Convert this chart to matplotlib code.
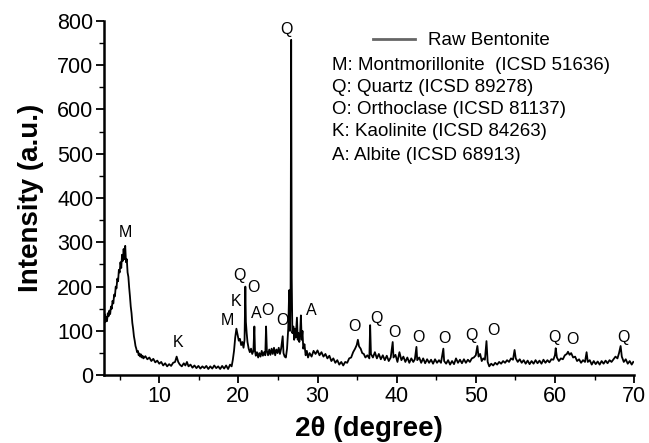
import matplotlib
matplotlib.use('Agg')
import matplotlib.pyplot as plt
from matplotlib.ticker import MultipleLocator

plt.rcParams['font.family'] = ['Liberation Sans', 'DejaVu Sans']

# XRD pattern of raw bentonite
two_theta = [
    3.0, 3.1, 3.2, 3.3, 3.4, 3.5, 3.6, 3.7, 3.8, 3.9, 4.0, 4.1, 4.2, 4.3, 4.4, 4.5, 4.6, 4.7, 4.8, 4.9,
    5.0, 5.1, 5.2, 5.3, 5.4, 5.5, 5.6, 5.7, 5.8, 5.9, 6.0, 6.1, 6.2, 6.3, 6.4, 6.5, 6.6, 6.7, 6.8, 6.9,
    7.0, 7.1, 7.2, 7.3, 7.4, 7.5, 7.6, 7.7, 7.8, 7.9, 8.0,
    8.25, 8.5, 8.75, 9.0, 9.25, 9.5, 9.75, 10.0, 10.25, 10.5, 10.75, 11.0, 11.25, 11.5, 11.75, 12.0,
    12.2, 12.4, 12.6, 12.85, 13.1, 13.3, 13.5, 13.7, 13.95, 14.2, 14.45, 14.7, 14.95, 15.2, 15.45,
    15.7, 15.95, 16.2, 16.45, 16.7, 16.95, 17.2, 17.45, 17.7, 17.95, 18.2, 18.45, 18.7, 18.95, 19.15,
    19.3, 19.45, 19.6, 19.75, 19.9, 20.05, 20.2, 20.35, 20.5, 20.65, 20.78, 20.88, 20.95, 21.05, 21.15,
    21.3, 21.45, 21.6, 21.75, 21.9, 22.02, 22.1, 22.2, 22.35, 22.5, 22.65, 22.8, 22.95, 23.1, 23.25,
    23.4, 23.5, 23.6, 23.75, 23.9, 24.05, 24.2, 24.35, 24.5, 24.65, 24.8, 24.95, 25.1, 25.25, 25.4,
    25.6, 25.7, 25.85, 26.0, 26.15, 26.3, 26.42, 26.52, 26.6, 26.67, 26.74, 26.82, 26.95, 27.05, 27.15,
    27.25, 27.4, 27.5, 27.6, 27.7, 27.8, 27.9, 28.0, 28.1, 28.2, 28.35, 28.5, 28.65, 28.8,
    29.0, 29.25, 29.5, 29.75, 30.0, 30.25, 30.5, 30.75, 31.0, 31.25, 31.5, 31.75, 32.0, 32.25, 32.5,
    32.75, 33.0, 33.25, 33.5, 33.75, 34.0, 34.25, 34.5, 34.75, 34.95, 35.1, 35.25, 35.45, 35.65, 35.85,
    36.05, 36.3, 36.55, 36.65, 36.75, 37.0, 37.25, 37.5, 37.75, 38.0, 38.25, 38.5, 38.75, 39.0, 39.25,
    39.5, 39.6, 39.85, 40.1, 40.35, 40.6, 40.85, 41.1, 41.35, 41.6, 41.85, 42.1, 42.3, 42.5, 42.6,
    42.85, 43.1, 43.35, 43.6, 43.85, 44.1, 44.35, 44.6, 44.85, 45.1, 45.35, 45.6, 45.9, 46.0, 46.25,
    46.5, 46.75, 47.0, 47.25, 47.5, 47.75, 48.0, 48.25, 48.5, 48.75, 49.0, 49.25, 49.5, 49.75, 50.0,
    50.2, 50.35, 50.55, 50.75, 50.95, 51.15, 51.35, 51.5, 51.7, 51.95, 52.2, 52.45, 52.7, 52.95, 53.2,
    53.45, 53.7, 53.95, 54.2, 54.45, 54.7, 54.9, 55.05, 55.3, 55.55, 55.8, 56.05, 56.3, 56.55, 56.8,
    57.05, 57.3, 57.55, 57.8, 58.05, 58.3, 58.55, 58.8, 59.05, 59.3, 59.55, 59.8, 60.0, 60.1, 60.25,
    60.5, 60.75, 61.0, 61.25, 61.5, 61.65, 61.85, 62.05, 62.3, 62.55, 62.8, 63.05, 63.3, 63.55, 63.8,
    64.0, 64.15, 64.4, 64.65, 64.9, 65.15, 65.4, 65.65, 65.9, 66.15, 66.4, 66.65, 66.9, 67.15, 67.4,
    67.65, 67.9, 68.1, 68.3, 68.45, 68.7, 68.95, 69.2, 69.45, 69.7, 69.9,
]
intensity = [
    125, 138, 120, 132, 122, 140, 133, 146, 138, 155, 150, 168, 162, 182, 178, 200, 196, 218, 212, 238,
    232, 255, 242, 272, 258, 285, 262, 292, 255, 262, 232, 222, 198, 178, 155, 140, 118, 105, 88, 78,
    66, 60, 52, 55, 45, 49, 42, 47, 40, 44, 38,
    43, 36, 40, 32, 37, 29, 33, 26, 30, 22, 27, 20, 25, 21, 28, 30,
    42, 30, 24, 20, 27, 22, 30, 20, 24, 17, 22, 16, 21, 15, 20,
    16, 21, 14, 20, 15, 22, 16, 20, 14, 21, 15, 22, 14, 24, 20,
    35, 55, 85, 105, 92, 78, 82, 68, 75, 62, 80, 200, 120, 95, 75,
    60, 52, 60, 48, 55, 110, 55, 44, 52, 40, 50, 42, 55, 44, 52,
    45, 110, 55, 45, 58, 46, 60, 48, 62, 45, 58, 50, 62, 48, 60,
    88, 50, 42, 40, 60, 105, 192, 100, 200, 757, 220, 95, 110, 80, 105,
    85, 130, 80, 95, 75, 95, 135, 80, 100, 60, 70, 45, 55, 40,
    50, 42, 55, 48, 56, 45, 52, 42, 48, 38, 44, 32, 38, 28, 34,
    24, 30, 22, 30, 28, 38, 40, 52, 60, 68, 80, 65, 60, 50, 48,
    40, 45, 38, 113, 48, 40, 52, 38, 48, 36, 45, 34, 44, 32, 40,
    75, 40, 46, 30, 52, 34, 42, 30, 40, 28, 38, 30, 36, 64, 34,
    40, 28, 38, 27, 36, 28, 35, 26, 36, 28, 34, 28, 60, 32, 26,
    34, 24, 32, 25, 38, 28, 35, 27, 36, 28, 35, 30, 38, 40, 45,
    66, 42, 48, 32, 38, 35, 77, 30, 20, 26, 22, 28, 24, 30, 26,
    32, 28, 34, 30, 38, 35, 57, 38, 30, 36, 28, 34, 26, 33, 25,
    32, 26, 34, 27, 33, 26, 35, 28, 34, 29, 36, 35, 45, 61, 40,
    32, 38, 36, 45, 48, 53, 46, 50, 40, 42, 32, 36, 28, 34, 30,
    52, 30, 34, 24, 32, 25, 31, 24, 32, 26, 33, 27, 34, 30, 36,
    42, 38, 50, 66, 42, 30, 36, 26, 32, 24, 30,
]

# phase markers: letter, 2theta, height of label
peak_letters = ['M', 'K', 'M', 'K', 'Q', 'O', 'A', 'O', 'O', 'Q', 'A',
                'O', 'Q', 'O', 'O', 'O', 'Q', 'O', 'Q', 'O', 'Q']
peak_x = [5.7, 12.4, 18.6, 19.7, 20.1, 21.9, 22.2, 23.7, 25.6, 26.1, 29.2,
          34.7, 37.4, 39.7, 42.8, 46.1, 49.5, 52.2, 60.0, 62.2, 68.6]
peak_y = [323, 73, 123, 166, 224, 198, 139, 147, 124, 780, 147,
          109, 128, 96, 85, 83, 90, 102, 85, 81, 85]

phases = ['M: Montmorillonite  (ICSD 51636)',
          'Q: Quartz (ICSD 89278)',
          'O: Orthoclase (ICSD 81137)',
          'K: Kaolinite (ICSD 84263)',
          'A: Albite (ICSD 68913)']

fig = plt.figure(figsize=(6.49, 4.43), dpi=100)
ax = fig.add_axes([0.160, 0.153, 0.817, 0.800])

line, = ax.plot(two_theta, intensity, color='black', lw=1.3, label='Raw Bentonite')

for i in range(len(peak_letters)):
    ax.text(peak_x[i], peak_y[i], peak_letters[i], fontsize=11.5,
            ha='center', va='center')

ax.set_xlim(3, 70)
ax.set_ylim(0, 800)
ax.xaxis.set_major_locator(MultipleLocator(10))
ax.xaxis.set_minor_locator(MultipleLocator(5))
ax.yaxis.set_major_locator(MultipleLocator(100))
ax.yaxis.set_minor_locator(MultipleLocator(50))
ax.spines['top'].set_visible(False)
ax.spines['right'].set_visible(False)
ax.spines['left'].set_linewidth(1.8)
ax.spines['bottom'].set_linewidth(1.8)
ax.tick_params(which='major', length=5.5, width=1.3, labelsize=15.5, direction='out', pad=2)
ax.tick_params(which='minor', length=3.5, width=1.0, direction='out')

ax.set_xlabel('2θ (degree)', fontsize=20, fontweight='bold')
ax.set_ylabel('Intensity (a.u.)', fontsize=20, fontweight='bold')
ax.xaxis.set_label_coords(0.5, (375 - 416) / 354)
ax.yaxis.set_label_coords((44 - 104) / 530, 0.5)

leg = ax.legend(loc='upper left', bbox_to_anchor=(373 / 649, 1 - 32 / 443),
                bbox_transform=fig.transFigure, frameon=False, fontsize=13.5,
                borderpad=0, borderaxespad=0, handlelength=2.25, handletextpad=0.7)
leg.get_lines()[0].set_color('#666666')
leg.get_lines()[0].set_linewidth(2.0)

ys = [65, 88, 110, 132, 155]
for i in range(len(phases)):
    fig.text(332 / 649, 1 - ys[i] / 443, phases[i], fontsize=13.5, va='center', ha='left')

fig.savefig('out.png', dpi=100)
